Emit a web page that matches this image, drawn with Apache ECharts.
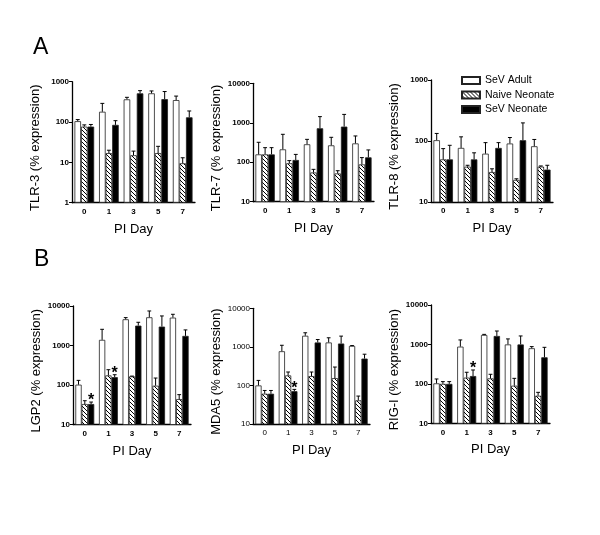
<!DOCTYPE html>
<html><head><meta charset="utf-8">
<script src="https://cdn.jsdelivr.net/npm/echarts@6/dist/echarts.min.js"></script>
<style>html,body{margin:0;padding:0;background:#fff}#c{width:600px;height:535px}</style>
</head><body><div id="c"></div>
<script>
// ---------- data ----------
const days = ['0', '1', '3', '5', '7'];
const groupNames = ['SeV Adult', 'Naive Neonate', 'SeV Neonate'];
const panelTitles = ['TLR-3 (% expression)', 'TLR-7 (% expression)', 'TLR-8 (% expression)',
                     'LGP2 (% expression)', 'MDA5 (% expression)', 'RIG-I (% expression)'];
const panelMin = [1, 10, 10, 10, 10, 10];
const panelMax = [1000, 10000, 1000, 10000, 10000, 10000];

// TLR-3
const tlr3Adult = [105, 180, 365, 515, 350];
const tlr3AdultErr = [115, 290, 410, 590, 440];
const tlr3Naive = [77, 17, 15, 17, 9.5];
const tlr3NaiveErr = [85, 20, 19, 25, 13];
const tlr3SeV = [77, 85, 515, 370, 131];
const tlr3SeVErr = [87, 108, 600, 570, 188];
// TLR-7
const tlr7Adult = [158, 212, 285, 268, 300];
const tlr7AdultErr = [320, 510, 380, 428, 463];
const tlr7Naive = [158, 94, 55, 52, 88];
const tlr7NaiveErr = [234, 110, 66, 61, 131];
const tlr7SeV = [158, 114, 725, 800, 133];
const tlr7SeVErr = [234, 158, 1430, 1630, 205];
// TLR-8
const tlr8Adult = [103, 77, 62, 91, 82];
const tlr8AdultErr = [133, 117, 94, 114, 106];
const tlr8Naive = [50, 38, 31, 23, 38];
const tlr8NaiveErr = [75, 40, 35, 24, 39];
const tlr8SeV = [50, 50, 77, 103, 34];
const tlr8SeVErr = [85, 64, 94, 198, 40];
// LGP2
const lgp2Adult = [102, 1390, 4610, 5180, 5080];
const lgp2AdultErr = [131, 2570, 5080, 7480, 6170];
const lgp2Naive = [33, 175, 165, 96, 44];
const lgp2NaiveErr = [40, 244, 168, 150, 57];
const lgp2SeV = [33, 158, 3190, 3010, 1750];
const lgp2SeVErr = [37, 182, 3870, 5600, 2480];
// MDA5
const mda5Adult = [100, 770, 1940, 1300, 1060];
const mda5AdultErr = [135, 1100, 2320, 1720, 1080];
const mda5Naive = [61, 182, 175, 155, 41];
const mda5NaiveErr = [74, 223, 223, 300, 53];
const mda5SeV = [61, 71, 1300, 1220, 497];
const mda5SeVErr = [74, 79, 1550, 1900, 645];
// RIG-I
const rigAdult = [103, 880, 1740, 1000, 800];
const rigAdultErr = [133, 1300, 1800, 1380, 880];
const rigNaive = [100, 144, 138, 90, 50];
const rigNaiveErr = [114, 197, 175, 138, 61];
const rigSeV = [100, 158, 1640, 1000, 472];
const rigSeVErr = [114, 225, 2190, 1640, 845];

// significance stars: category indices for SeV Neonate bars
const lgp2Stars = [0, 1];
const mda5Stars = [1];
const rigStars = [1];

const panelValues = [
  [tlr3Adult, tlr3Naive, tlr3SeV],
  [tlr7Adult, tlr7Naive, tlr7SeV],
  [tlr8Adult, tlr8Naive, tlr8SeV],
  [lgp2Adult, lgp2Naive, lgp2SeV],
  [mda5Adult, mda5Naive, mda5SeV],
  [rigAdult, rigNaive, rigSeV]
];
const panelErrors = [
  [tlr3AdultErr, tlr3NaiveErr, tlr3SeVErr],
  [tlr7AdultErr, tlr7NaiveErr, tlr7SeVErr],
  [tlr8AdultErr, tlr8NaiveErr, tlr8SeVErr],
  [lgp2AdultErr, lgp2NaiveErr, lgp2SeVErr],
  [mda5AdultErr, mda5NaiveErr, mda5SeVErr],
  [rigAdultErr, rigNaiveErr, rigSeVErr]
];
const panelStars = [[], [], [], lgp2Stars, mda5Stars, rigStars];

// ---------- layout / style ----------
const grids = [
  {left: 72, top: 81.7, width: 123, height: 121},
  {left: 253, top: 83.3, width: 121, height: 118.4},
  {left: 431, top: 80, width: 122, height: 122},
  {left: 73, top: 306, width: 118, height: 118.5},
  {left: 253, top: 308.3, width: 117, height: 115.7},
  {left: 431, top: 305, width: 119, height: 118.3}
];
const FONT = '"Liberation Sans", Arial, sans-serif';
const CAT_GAP = 0.2;

function makeHatch() {
  const c = document.createElement('canvas');
  c.width = 4; c.height = 4;
  const g = c.getContext('2d');
  g.fillStyle = '#fff'; g.fillRect(0, 0, 4, 4);
  g.strokeStyle = '#000'; g.lineWidth = 1;
  g.beginPath();
  g.moveTo(-1, -1); g.lineTo(5, 5);
  g.moveTo(-1, 3); g.lineTo(1, 5);
  g.moveTo(3, -1); g.lineTo(5, 1);
  g.stroke();
  return c;
}
const hatch = {image: makeHatch(), repeat: 'repeat'};
const fills = ['#ffffff', hatch, '#000000'];

const chart = echarts.init(document.getElementById('c'), null, {renderer: 'canvas'});

const xAxes = [], yAxes = [], series = [];
grids.forEach((g, p) => {
  const bold = p === 4 ? 'normal' : 'bold';
  xAxes.push({
    type: 'category', gridIndex: p, data: days,
    name: 'PI Day', nameLocation: 'middle', nameGap: 20,
    nameTextStyle: {fontFamily: FONT, fontSize: 13, color: '#000'},
    axisLine: {lineStyle: {color: '#000', width: 1.3}},
    axisTick: {alignWithLabel: true, length: 3, lineStyle: {color: '#000'}},
    axisLabel: {fontFamily: FONT, fontSize: 8, fontWeight: bold, color: '#000', margin: 5}
  });
  yAxes.push({
    type: 'log', logBase: 10, gridIndex: p, min: panelMin[p], max: panelMax[p],
    name: panelTitles[p], nameLocation: 'middle', nameGap: 30,
    nameTextStyle: {fontFamily: FONT, fontSize: 13, color: '#000', padding: [0, 11, 0, 0]},
    axisLine: {show: true, lineStyle: {color: '#000', width: 1.3}},
    axisTick: {show: true, length: 3, lineStyle: {color: '#000'}},
    minorTick: {show: false},
    splitLine: {show: false},
    axisLabel: {fontFamily: FONT, fontSize: 8, fontWeight: bold, color: '#000', margin: 3,
      formatter: v => String(Math.round(v))}
  });
  for (let s = 0; s < 3; s++) {
    series.push({
      type: 'bar', name: groupNames[s], xAxisIndex: p, yAxisIndex: p,
      data: panelValues[p][s], clip: true,
      barGap: '0%', barCategoryGap: (CAT_GAP * 100) + '%',
      itemStyle: {color: fills[s], borderColor: '#222', borderWidth: 0.8},
      emphasis: {disabled: true}, animation: false
    });
  }
  for (let s = 0; s < 3; s++) {
    const vals = panelValues[p][s], errs = panelErrors[p][s];
    const stars = s === 2 ? panelStars[p] : [];
    const data = vals.map((v, i) => [i, v, errs[i], stars.indexOf(i) >= 0 ? 1 : 0]);
    series.push({
      type: 'custom', xAxisIndex: p, yAxisIndex: p, data: data, z: 5,
      encode: {x: 0, y: [1, 2]}, animation: false, silent: true,
      renderItem: (params, api) => {
        const i = api.value(0), v = api.value(1), e = api.value(2), star = api.value(3);
        const base = api.coord([i, v]);
        const top = api.coord([i, e]);
        const band = api.coord([1, v])[0] - api.coord([0, v])[0];
        const bw = band * (1 - CAT_GAP) / 3;
        const x = base[0] + (s - 1) * bw;
        const cap = Math.max(1.5, bw * 0.3);
        const children = [
          {type: 'line', shape: {x1: x, y1: base[1], x2: x, y2: top[1]}, style: {stroke: '#000', lineWidth: 1}},
          {type: 'line', shape: {x1: x - cap, y1: top[1], x2: x + cap, y2: top[1]}, style: {stroke: '#000', lineWidth: 1}}
        ];
        if (star) {
          children.push({type: 'text', x: x, y: top[1] - 1,
            style: {text: '*', fontFamily: FONT, fontSize: 16, fontWeight: 'bold', fill: '#000',
              align: 'center', verticalAlign: 'middle'}});
        }
        return {type: 'group', children: children};
      }
    });
  }
});

chart.setOption({
  animation: false,
  backgroundColor: '#fff',
  title: [
    {text: 'A', left: 33, top: 36, padding: 0, textStyle: {fontFamily: FONT, fontSize: 23, fontWeight: 'normal', color: '#000'}},
    {text: 'B', left: 34, top: 248, padding: 0, textStyle: {fontFamily: FONT, fontSize: 23, fontWeight: 'normal', color: '#000'}}
  ],
  legend: {
    data: groupNames, orient: 'vertical', left: 456, top: 70,
    itemWidth: 18, itemHeight: 7, itemGap: 3.5, icon: 'rect',
    textStyle: {fontFamily: FONT, fontSize: 10.5, color: '#000'},
    selectedMode: false
  },
  grid: grids.map(g => Object.assign({containLabel: false}, g)),
  xAxis: xAxes,
  yAxis: yAxes,
  series: series
});
</script>
</body></html>
